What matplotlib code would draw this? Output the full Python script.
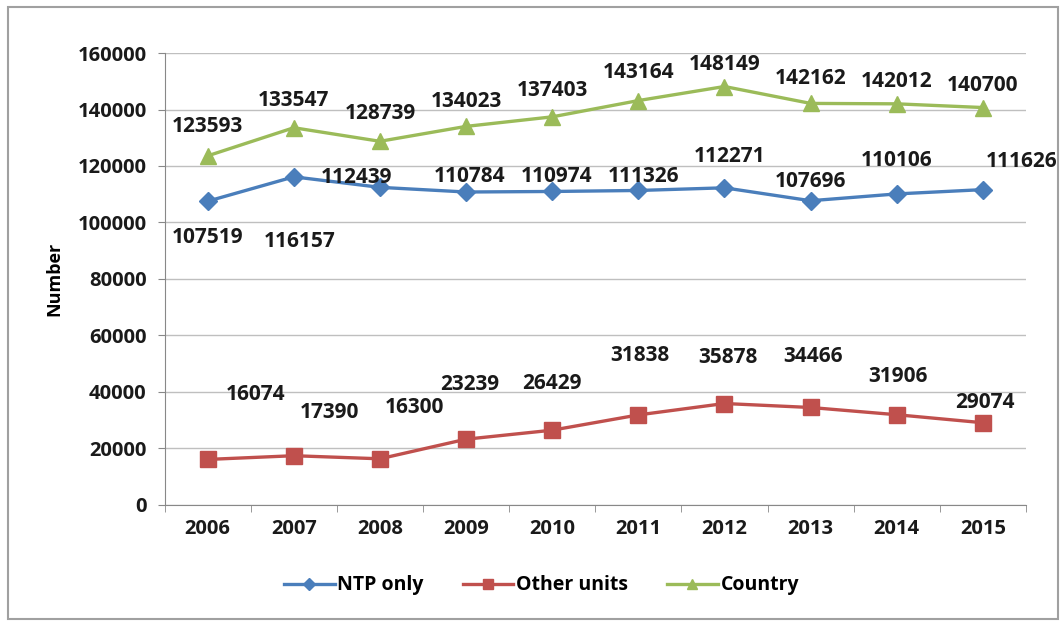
import matplotlib.pyplot as plt
from matplotlib.patches import Rectangle

years = ['2006', '2007', '2008', '2009', '2010', '2011', '2012', '2013', '2014', '2015']
ntp_only = [107519, 116157, 112439, 110784, 110974, 111326, 112271, 107696, 110106, 111626]
other_units = [16074, 17390, 16300, 23239, 26429, 31838, 35878, 34466, 31906, 29074]
country = [123593, 133547, 128739, 134023, 137403, 143164, 148149, 142162, 142012, 140700]

# label offsets in pixels (dx, dy)
ntp_off = [(0, -36), (6, -65), (-23, 10), (4, 16), (4, 15), (5, 14), (5, 31), (0, 19), (0, 33), (39, 28)]
oth_off = [(48, 65), (36, 43), (35, 51), (4, 55), (0, 47), (2, 59), (3, 46), (2, 51), (1, 38), (2, 20)]
cty_off = [(0, 29), (0, 27), (0, 28), (0, 25), (0, 26), (0, 28), (0, 22), (0, 25), (0, 22), (0, 22)]

plt.rcParams['font.family'] = ['Open Sans', 'DejaVu Sans']

fig = plt.figure(figsize=(10.62, 6.24), dpi=100)
ax = fig.add_axes([0.155, 0.191, 0.811, 0.724])

# outer border
fig.patches.append(Rectangle((0.008, 0.008), 0.988, 0.98, transform=fig.transFigure,
                             fill=False, edgecolor='#a0a0a0', linewidth=1.5))

x = range(len(years))
ax.plot(x, ntp_only, color='#4a7ebb', marker='D', markersize=9, linewidth=2.4, label='NTP only', zorder=3)
ax.plot(x, other_units, color='#c0504d', marker='s', markersize=11, linewidth=2.4, label='Other units', zorder=3)
ax.plot(x, country, color='#9bbb59', marker='^', markersize=11, linewidth=2.4, label='Country', zorder=3)

for vals, offs in [(ntp_only, ntp_off), (other_units, oth_off), (country, cty_off)]:
    for i, v in enumerate(vals):
        ax.annotate(str(v), (i, v), xytext=offs[i], textcoords='offset pixels',
                    ha='center', va='center', fontsize=15, fontweight='bold', color='#1a1a1a')

ax.set_xlim(-0.5, 9.5)
ax.set_ylim(0, 160000)
ax.set_yticks(range(0, 160001, 20000))
ax.set_xticks(list(x))
ax.set_xticklabels(years)
for lab in ax.get_xticklabels() + ax.get_yticklabels():
    lab.set_fontweight('bold')
ax.tick_params(axis='both', labelsize=14.5, colors='#1a1a1a', length=5, color='#888888')
ax.tick_params(axis='y', pad=8)
ax.tick_params(axis='x', length=0, pad=10)
ax.set_xticks([i + 0.5 for i in range(-1, 10)], minor=True)
ax.tick_params(axis='x', which='minor', length=5, color='#888888')
ax.grid(axis='y', color='#bfbfbf', linewidth=1)
ax.set_axisbelow(True)
for s in ['top', 'right']:
    ax.spines[s].set_visible(False)
ax.spines['left'].set_color('#888888')
ax.spines['bottom'].set_color('#888888')
ax.set_ylabel('Number', fontsize=13, fontweight='bold', labelpad=10)

fig.legend(loc='center', bbox_to_anchor=(0.51, 0.062), ncol=3, frameon=False,
           prop={'size': 14, 'weight': 'bold'}, handlelength=2.6, columnspacing=2.0,
           handletextpad=0.15, markerscale=0.7)

fig.savefig('out.png', dpi=100)
